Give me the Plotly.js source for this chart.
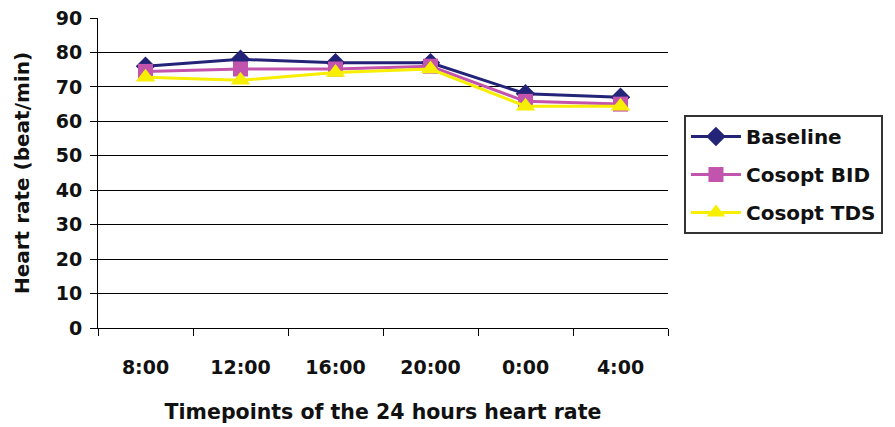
<!DOCTYPE html>
<html>
<head>
<meta charset="utf-8">
<script src="https://cdn.plot.ly/plotly-3.0.1.min.js"></script>
<style>html,body{margin:0;padding:0;background:#fff;}#chart{width:895px;height:427px;}</style>
</head>
<body>
<div id="chart"></div>
<script>
const categories = ["8:00", "12:00", "16:00", "20:00", "0:00", "4:00"];
const baseline = [76, 78, 77, 77, 68, 67];
const cosoptBID = [74.5, 75.2, 75.2, 76, 65.8, 65];
const cosoptTDS = [72.8, 71.9, 74.2, 75.2, 64.4, 64.4];
const yTicks = [0, 10, 20, 30, 40, 50, 60, 70, 80, 90];

const FONT = "DejaVu Sans, Arial, sans-serif";

const traces = [
  {x: categories, y: baseline, name: "Baseline", legendgroup: "a", mode: "lines+markers",
   line: {color: "#232378", width: 3}, marker: {symbol: "diamond", size: 15, color: "#232378"}},
  {x: categories, y: cosoptBID, name: "Cosopt BID", legendgroup: "b", mode: "lines+markers",
   line: {color: "#C254AE", width: 3}, marker: {symbol: "square", size: 15, color: "#C254AE"}},
  {x: categories, y: cosoptTDS, name: "Cosopt TDS", legendgroup: "c", mode: "lines+markers",
   line: {color: "#F7EE00", width: 3}, marker: {symbol: "triangle-up", size: 17, color: "#F7EE00"}}
];

const layout = {
  width: 895, height: 427,
  margin: {l: 98, r: 227, t: 18, b: 99},
  paper_bgcolor: "#fff", plot_bgcolor: "#fff",
  font: {family: FONT, color: "#111", size: 18, weight: "bold"},
  showlegend: true,
  legend: {
    x: 1.028, y: 0.687, xanchor: "left", yanchor: "top",
    bordercolor: "#333", borderwidth: 2, bgcolor: "#fff",
    font: {family: FONT, size: 20, weight: "bold", color: "#111"},
    traceorder: "grouped", tracegroupgap: 9, itemwidth: 50
  },
  xaxis: {
    type: "category", range: [-0.5, 5.5],
    tickson: "boundaries", ticks: "outside", ticklen: 7, tickcolor: "#000", tickwidth: 1,
    ticklabelstandoff: 22,
    showline: true, linecolor: "#000", linewidth: 1,
    showgrid: false, zeroline: false,
    tickfont: {family: FONT, size: 19, weight: "bold", color: "#111"},
    title: {text: "Timepoints of the 24 hours heart rate", font: {family: FONT, size: 20.5, weight: "bold", color: "#111"}, standoff: 27},
    automargin: false
  },
  yaxis: {
    range: [0, 90], tickvals: yTicks, ticktext: yTicks.map(String),
    ticks: "outside", ticklen: 7, tickcolor: "#000", tickwidth: 1,
    ticklabelstandoff: 4,
    showline: true, linecolor: "#000", linewidth: 1,
    showgrid: true, gridcolor: "#000", gridwidth: 1, zeroline: false,
    tickfont: {family: FONT, size: 19, weight: "bold", color: "#111"},
    title: {text: "Heart rate (beat/min)", font: {family: FONT, size: 20, weight: "bold", color: "#111"}, standoff: 20},
    automargin: false
  }
};

Plotly.newPlot("chart", traces, layout, {displayModeBar: false, staticPlot: true});
</script>
</body>
</html>
